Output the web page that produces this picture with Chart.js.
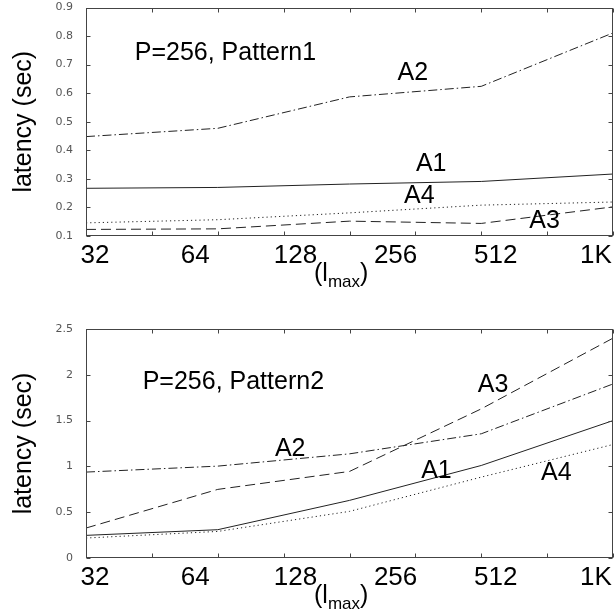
<!DOCTYPE html>
<html><head><meta charset="utf-8">
<script src="https://cdn.jsdelivr.net/npm/chart.js@4.4.0/dist/chart.umd.min.js"></script>
<style>
html,body{margin:0;padding:0;background:#fff;width:615px;height:615px;overflow:hidden}
#w1{position:absolute;left:0;top:-3px;width:615px;height:300px}
#w2{position:absolute;left:0;top:300px;width:615px;height:315px}
canvas{display:block}
</style></head><body>
<div id="w1"><canvas id="c1" width="615" height="300"></canvas></div>
<div id="w2"><canvas id="c2" width="615" height="315"></canvas></div>
<script>
// ---- data ----
const xTickLabels = ['32', '64', '128', '256', '512', '1K'];
const samplePos = [0, 1, 2, 3, 4];

// Pattern1
const p1A1 = [0.267, 0.270, 0.282, 0.291, 0.317];
const p1A2 = [0.448, 0.477, 0.587, 0.624, 0.811];
const p1A3 = [0.123, 0.125, 0.152, 0.144, 0.202];
const p1A4 = [0.146, 0.157, 0.181, 0.208, 0.219];

// Pattern2
const p2A1 = [0.247, 0.309, 0.629, 1.010, 1.500];
const p2A2 = [0.938, 1.003, 1.137, 1.356, 1.900];
const p2A3 = [0.327, 0.749, 0.945, 1.628, 2.400];
const p2A4 = [0.218, 0.290, 0.509, 0.883, 1.239];

const seriesNames = ['A1', 'A2', 'A3', 'A4'];
const seriesDash = [[], [9, 3, 1.5, 3], [10, 5], [1.2, 3]];

const FONT = "'Liberation Sans', Arial, sans-serif";

function pts(vals) { return vals.map((v, i) => ({x: samplePos[i], y: v})); }

const framePlugin = {
  id: 'frame',
  afterDatasetsDraw(chart, args, o) {
    const {ctx, chartArea: a, scales} = chart;
    ctx.save();
    ctx.strokeStyle = '#444';
    ctx.lineWidth = 1;
    const line = (x1, y1, x2, y2) => { ctx.beginPath(); ctx.moveTo(x1, y1); ctx.lineTo(x2, y2); ctx.stroke(); };
    const L = Math.round(a.left) + 0.5, R = Math.round(a.right) - 0.5;
    const T = Math.round(a.top) + 0.5, B = Math.round(a.bottom) - 0.5;
    ctx.strokeRect(L, T, R - L, B - T);
    const tl = 4;
    for (let v = 0; v <= 4.0001; v += 0.5) {
      const px = Math.round(scales.x.getPixelForValue(v)) + 0.5;
      line(px, B, px, B - tl);
      line(px, T, px, T + tl);
    }
    scales.y.ticks.forEach(t => {
      const py = Math.round(scales.y.getPixelForValue(t.value)) + 0.5;
      line(L, py, L + tl, py);
      line(R, py, R - tl, py);
    });
    // annotations
    ctx.fillStyle = '#000';
    ctx.textBaseline = 'middle';
    o.notes.forEach(n => {
      ctx.font = '25px ' + FONT;
      ctx.textAlign = n.align || 'center';
      ctx.fillText(n.text, scales.x.getPixelForValue(n.x), scales.y.getPixelForValue(n.y));
    });
    // x axis title (l_max)
    ctx.textAlign = 'left';
    ctx.textBaseline = 'alphabetic';
    let x = a.left + o.titleDx, y = a.bottom + o.titleDy;
    ctx.font = '25px ' + FONT;
    ctx.fillText('(l', x, y); x += ctx.measureText('(l').width;
    ctx.font = '17px ' + FONT;
    ctx.fillText('max', x, y + 6); x += ctx.measureText('max').width;
    ctx.font = '25px ' + FONT;
    ctx.fillText(')', x, y);
    ctx.restore();
  }
};

function makeChart(id, data, yMin, yMax, yStep, yFmt, notes, padTop, xAxisH) {
  const datasets = data.map((vals, i) => ({
    label: seriesNames[i],
    data: pts(vals),
    xAxisID: 'x',
    borderColor: '#222',
    borderWidth: 1,
    borderDash: seriesDash[i],
    pointRadius: 0,
    tension: 0,
    fill: false
  }));
  return new Chart(document.getElementById(id), {
    type: 'line',
    data: {datasets},
    plugins: [framePlugin],
    options: {
      responsive: false,
      animation: false,
      events: [],
      layout: {padding: {top: padTop, right: 2, left: 0, bottom: 0}},
      plugins: {legend: {display: false}, tooltip: {enabled: false},
        frame: {notes, titleDx: 228, titleDy: 45}},
      scales: {
        x: {type: 'linear', display: false, min: 0, max: 4},
        xl: {
          type: 'linear', position: 'bottom', min: -0.09, max: 5.17,
          grid: {display: false}, border: {display: false},
          afterBuildTicks: s => { s.ticks = xTickLabels.map((_, i) => ({value: i})); },
          afterFit: s => { s.height = xAxisH; },
          ticks: {padding: -1, color: '#000', font: {family: FONT, size: 26, lineHeight: 1},
            maxRotation: 0, autoSkip: false,
            callback: (v) => xTickLabels[Math.round(v)]}
        },
        y: {
          type: 'linear', min: yMin, max: yMax,
          grid: {display: false}, border: {display: false},
          afterFit: s => { s.width = 86; },
          ticks: {stepSize: yStep, padding: 5, color: '#555',
            font: {family: "'DejaVu Sans', sans-serif", size: 11, lineHeight: 1},
            callback: yFmt},
          title: {display: true, text: 'latency (sec)', color: '#000',
            font: {family: FONT, size: 25}, padding: {top: 9, bottom: 0}}
        }
      }
    }
  });
}

makeChart('c1', [p1A1, p1A2, p1A3, p1A4], 0.1, 0.9, 0.1, v => v.toFixed(1), [
  {text: 'P=256, Pattern1', x: 0.37, y: 0.74, align: 'left'},
  {text: 'A2', x: 2.48, y: 0.67},
  {text: 'A1', x: 2.62, y: 0.35},
  {text: 'A4', x: 2.53, y: 0.239},
  {text: 'A3', x: 3.48, y: 0.152}
], 4, 61);

makeChart('c2', [p2A1, p2A2, p2A3, p2A4], 0, 2.5, 0.5, v => String(v), [
  {text: 'P=256, Pattern2', x: 0.43, y: 1.92, align: 'left'},
  {text: 'A3', x: 3.09, y: 1.89},
  {text: 'A2', x: 1.55, y: 1.19},
  {text: 'A1', x: 2.66, y: 0.95},
  {text: 'A4', x: 3.57, y: 0.93}
], 29, 57);
</script>
</body></html>
